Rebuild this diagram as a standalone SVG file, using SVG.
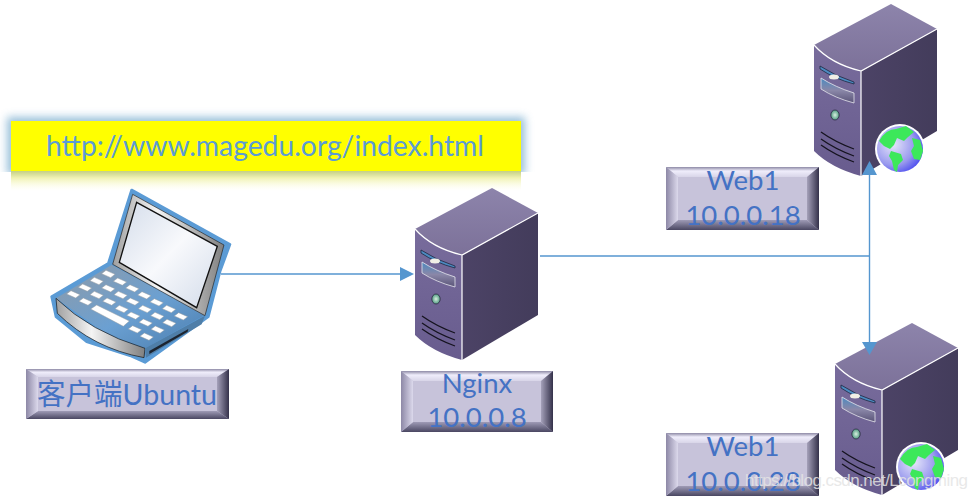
<svg xmlns="http://www.w3.org/2000/svg" xmlns:xlink="http://www.w3.org/1999/xlink" width="977" height="497" viewBox="0 0 977 497">
<style>
text{font-family:"Lato","Carlito","Noto Sans CJK SC",sans-serif}
.lbl{fill:#4472c4;font-size:27.500px;text-anchor:middle}
.wire{fill:none;stroke:#5596cf;stroke-width:1.4}
.head{fill:#5596cf}
.edge{fill:none;stroke:#fff;stroke-width:1.2}
.vent{fill:none;stroke:#15131f;stroke-width:1.3}
.face{fill:#c7c3da}
.key{fill:#fff;stroke:#9a9da1;stroke-width:1.500}
</style>
<defs>
<linearGradient id="gTop" x1="0" y1="0" x2="0" y2="1"><stop offset="0" stop-color="#8d84ab"/><stop offset="1" stop-color="#7c7199"/></linearGradient>
<linearGradient id="gFront" x1="0" y1="0" x2="0" y2="1"><stop offset="0" stop-color="#786c9c"/><stop offset="1" stop-color="#685c8e"/></linearGradient>
<linearGradient id="gRight" x1="0" y1="0" x2="1" y2="0"><stop offset="0" stop-color="#4c4366"/><stop offset="1" stop-color="#433c5b"/></linearGradient>
<linearGradient id="gBay" x1="0" y1="0" x2="0" y2="1"><stop offset="0" stop-color="#4c8ac0"/><stop offset=".5" stop-color="#8a87a8"/><stop offset="1" stop-color="#5a5478"/></linearGradient>
<radialGradient id="gLed"><stop offset="0" stop-color="#d8f0e0"/><stop offset="1" stop-color="#4f9a80"/></radialGradient>
<radialGradient id="gGlobe" cx=".35" cy=".4" r=".75"><stop offset="0" stop-color="#e6e6fa"/><stop offset=".6" stop-color="#9a9aee"/><stop offset="1" stop-color="#3a3af0"/></radialGradient>
<linearGradient id="gL" x1="0" y1="0" x2="1" y2="0"><stop offset="0" stop-color="#8d88a6"/><stop offset="1" stop-color="#dcd9ec"/></linearGradient>
<linearGradient id="gR" x1="0" y1="0" x2="1" y2="0"><stop offset="0" stop-color="#a5a1ba"/><stop offset="1" stop-color="#34314a"/></linearGradient>
<linearGradient id="gT" x1="0" y1="0" x2="0" y2="1"><stop offset="0" stop-color="#8e8aa6"/><stop offset=".4" stop-color="#efedfb"/><stop offset="1" stop-color="#d8d5e8"/></linearGradient>
<linearGradient id="gB" x1="0" y1="0" x2="0" y2="1"><stop offset="0" stop-color="#9f9bb6"/><stop offset="1" stop-color="#4a4762"/></linearGradient>
<linearGradient id="gRefl" x1="0" y1="0" x2="0" y2="1"><stop offset="0" stop-color="#c4cf86"/><stop offset=".35" stop-color="#f0f2b4"/><stop offset="1" stop-color="#ffffe8" stop-opacity="0"/></linearGradient>
<linearGradient id="gScreen" x1="0" y1="0" x2="1" y2="1"><stop offset="0" stop-color="#d3dcea"/><stop offset=".5" stop-color="#f8f9fc"/><stop offset="1" stop-color="#d3dcea"/></linearGradient>
<linearGradient id="gDeck" x1="0" y1="0" x2="1" y2="1"><stop offset="0" stop-color="#8f9aa6"/><stop offset=".55" stop-color="#6ba0d2"/><stop offset="1" stop-color="#4a7dae"/></linearGradient>
<linearGradient id="gLip" x1="0" y1="0" x2="1" y2="0"><stop offset="0" stop-color="#a0a0a0"/><stop offset=".4" stop-color="#f4f4f4"/><stop offset="1" stop-color="#808080"/></linearGradient>
<filter id="glow" x="-5%" y="-30%" width="110%" height="160%"><feGaussianBlur stdDeviation="4"/></filter>
<g id="server">
<path d="M415,229 L492,188 L538,213 L462,255 Q432,248 415,229 Z" fill="url(#gTop)"/>
<path d="M415,229 Q432,248 462,255 L462,360 Q432,352 415,335 Z" fill="url(#gFront)"/>
<path d="M462,255 L538,213 L538,315 L462,360 Z" fill="url(#gRight)"/>
<path class="edge" d="M415,229 Q432,248 462,255 L538,213 M462,255 L462,360"/>
<path d="M421,250 Q436,260 455,266 L455,268 Q436,263 421,253 Z" fill="#4c8ac0" stroke="#1d2a44" stroke-width=".8"/>
<ellipse cx="435" cy="261" rx="5" ry="2.500" fill="#f1efe6"/>
<path d="M422,262 Q436,271 455,277 L455,287 Q436,282 422,273 Z" fill="url(#gBay)" stroke="#e6e6ee" stroke-width=".8"/>
<ellipse cx="436" cy="299" rx="4.200" ry="5" fill="url(#gLed)" stroke="#2e2a44" stroke-width=".8"/>
<path class="vent" d="M422,316 Q436,326 455,333 M422,323 Q436,333 455,340 M422,329 Q436,339 455,346"/>
</g>
<g id="globe">
<circle r="25" fill="#fff"/>
<circle r="23" fill="url(#gGlobe)"/>
<path d="M-21,-8 Q-14,-20 -4,-20 L6,-23 L14,-17 L8,-12 L4,-8 L-3,-11 L-6,-4 L-10,0 L-16,-3 Z" fill="#3ce85a"/>
<path d="M-9,2 L1,5 L3,11 L-2,16 L-3,23 L-6,21 L-8,12 L-11,7 Z" fill="#3ce85a"/>
<path d="M12,-11 L20,-9 L23,2 L20,11 L14,10 L11,2 L14,-3 Z" fill="#3ce85a"/>
</g>
<polygon id="k" class="key" points="-20,-1 -7,-11 20,1 7,11"/>
</defs>

<g id="url-box">
<rect x="7" y="117" width="518" height="58" fill="#7fb0d0" opacity=".8" filter="url(#glow)"/>
<rect x="0" y="172" width="540" height="22" fill="#fff"/>
<rect x="11" y="171" width="510" height="20" fill="url(#gRefl)"/>
<rect x="11" y="121" width="510" height="50" fill="#ffff00"/>
<text x="265" y="156" font-size="29" text-anchor="middle" fill="#5b9bd5" textLength="438" lengthAdjust="spacingAndGlyphs">http://www.magedu.org/index.html</text>
</g>

<g id="nginx-server"><use href="#server"/></g>
<g id="web1-server"><use href="#server" transform="translate(399,-184)"/><use href="#globe" transform="translate(900,149)"/></g>
<g id="web2-server"><use href="#server" transform="translate(420,135)"/><use href="#globe" transform="translate(921,467)"/></g>

<g id="connectors">
<path class="wire" d="M221,274 H401"/>
<polygon class="head" points="400,267 414,274 400,281"/>
<path class="wire" d="M540,256 H870"/>
<path class="wire" d="M869.500,174 V344"/>
<polygon class="head" points="862,175 869.500,161 877,175"/>
<polygon class="head" points="862,342 877,342 869.500,355"/>
</g>

<g id="laptop" transform="translate(20,185) scale(.3333)">
<path d="M335,15 L630,178 L600,260 L565,395 L375,532 L330,512 L200,470 L108,395 L95,335 L265,235 Z" fill="#5b9bd5" stroke="#5b9bd5" stroke-width="8" stroke-linejoin="round"/>
<path d="M108,340 L275,240 L555,390 L375,490 L250,440 Z" fill="url(#gDeck)"/>
<path d="M108,340 Q210,440 375,490 L372,518 Q220,490 112,385 Z" fill="url(#gLip)" stroke="#111" stroke-width="2"/>
<path d="M375,490 L555,392 L545,418 L378,518 Z" fill="#4f7ea8"/>
<path d="M388,498 L505,432 L503,440 L388,507 Z" fill="#1c2430"/>
<path d="M338,28 L612,180 L555,392 L278,238 Z" fill="url(#gLip)" stroke="#222" stroke-width="2"/>
<path d="M350,52 L592,184 L530,368 L298,232 Z" fill="url(#gScreen)" stroke="#111" stroke-width="4"/>
<use href="#k" x="265" y="267"/><use href="#k" x="300" y="290"/><use href="#k" x="337" y="310"/><use href="#k" x="373" y="331"/><use href="#k" x="410" y="352"/><use href="#k" x="447" y="372"/><use href="#k" x="483" y="394"/>
<use href="#k" x="230" y="288"/><use href="#k" x="265" y="310"/><use href="#k" x="302" y="330"/><use href="#k" x="338" y="350"/><use href="#k" x="375" y="372"/><use href="#k" x="412" y="393"/><use href="#k" x="448" y="414"/>
<use href="#k" x="195" y="308"/><use href="#k" x="230" y="330"/><use href="#k" x="268" y="350"/><use href="#k" x="305" y="372"/><use href="#k" x="340" y="392"/><use href="#k" x="377" y="413"/><use href="#k" x="413" y="434"/>
<use href="#k" x="160" y="328"/><use href="#k" x="197" y="350"/><use href="#k" x="345" y="433"/><use href="#k" x="380" y="455"/>
<polygon class="key" points="212,372 230,360 328,408 310,424"/>
</g>

<g id="client-label">
<rect class="face" x="26" y="369" width="203" height="50"/>
<polygon points="26,369 229,369 217,377 38,377" fill="url(#gT)"/>
<polygon points="26,419 229,419 217,411 38,411" fill="url(#gB)"/>
<polygon points="26,369 38,377 38,411 26,419" fill="url(#gL)"/>
<polygon points="229,369 217,377 217,411 229,419" fill="url(#gR)"/>
<text class="lbl" x="127" y="405" font-size="29" style="font-size:29px" textLength="180" lengthAdjust="spacingAndGlyphs">客户端Ubuntu</text>
</g>

<g id="nginx-label">
<rect class="face" x="401" y="371" width="152" height="61"/>
<polygon points="401,371 553,371 541,381 413,381" fill="url(#gT)"/>
<polygon points="401,432 553,432 541,422 413,422" fill="url(#gB)"/>
<polygon points="401,371 413,381 413,422 401,432" fill="url(#gL)"/>
<polygon points="553,371 541,381 541,422 553,432" fill="url(#gR)"/>
<text class="lbl" x="477" y="393">Nginx</text>
<text class="lbl" x="477" y="427">10.0.0.8</text>
</g>

<g id="web1-label">
<rect class="face" x="666" y="167" width="153" height="63"/>
<polygon points="666,167 819,167 807,177 678,177" fill="url(#gT)"/>
<polygon points="666,230 819,230 807,220 678,220" fill="url(#gB)"/>
<polygon points="666,167 678,177 678,220 666,230" fill="url(#gL)"/>
<polygon points="819,167 807,177 807,220 819,230" fill="url(#gR)"/>
<text class="lbl" x="743" y="190">Web1</text>
<text class="lbl" x="743" y="225">10.0.0.18</text>
</g>

<g id="web2-label">
<rect class="face" x="666" y="433" width="153" height="63"/>
<polygon points="666,433 819,433 807,443 678,443" fill="url(#gT)"/>
<polygon points="666,496 819,496 807,486 678,486" fill="url(#gB)"/>
<polygon points="666,433 678,443 678,486 666,496" fill="url(#gL)"/>
<polygon points="819,433 807,443 807,486 819,496" fill="url(#gR)"/>
<text class="lbl" x="743" y="456">Web1</text>
<text class="lbl" x="743" y="491">10.0.0.28</text>
</g>

<text id="watermark" x="745" y="486" font-size="17" style="font-family:'Liberation Sans',sans-serif" fill="#e4e4e4" fill-opacity=".85" textLength="223">https://blog.csdn.net/Lcongming</text>
</svg>
